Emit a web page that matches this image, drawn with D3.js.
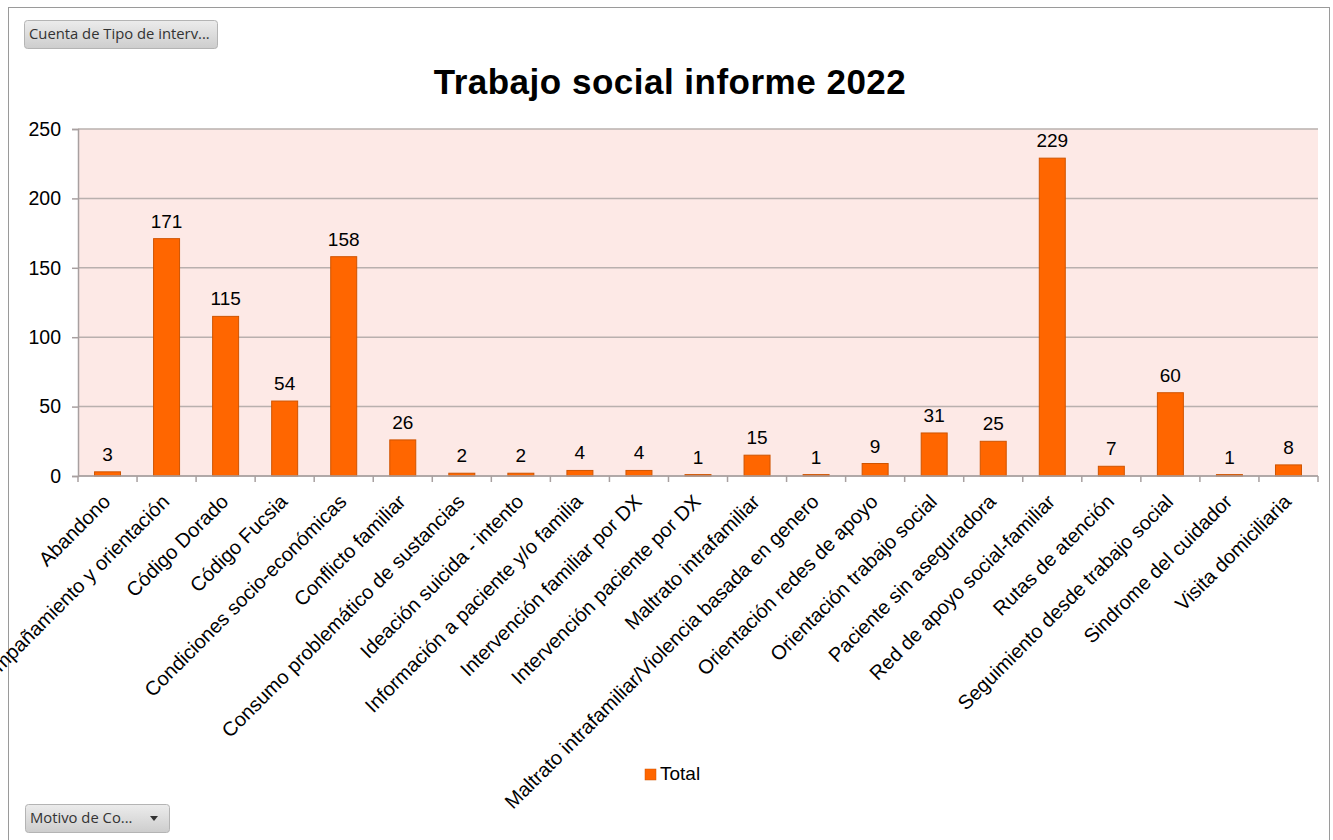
<!DOCTYPE html>
<html>
<head>
<meta charset="utf-8">
<script src="https://cdn.jsdelivr.net/npm/d3@7"></script>
<style>
  body { margin: 0; background: #fff; }
  text { font-family: "Liberation Sans", Arial, sans-serif; }
  .btn text { font-family: "Open Sans", "Noto Sans", sans-serif; }
</style>
</head>
<body>
<div id="graf"></div>
<script>
// datos
const categorias = [
  "Abandono",
  "Acompañamiento y orientación",
  "Código Dorado",
  "Código Fucsia",
  "Condiciones socio-económicas",
  "Conflicto familiar",
  "Consumo problemático de sustancias",
  "Ideación suicida - intento",
  "Información a paciente y/o familia",
  "Intervención familiar por DX",
  "Intervención paciente por DX",
  "Maltrato intrafamiliar",
  "Maltrato intrafamiliar/Violencia basada en genero",
  "Orientación redes de apoyo",
  "Orientación trabajo social",
  "Paciente sin aseguradora",
  "Red de apoyo social-familiar",
  "Rutas de atención",
  "Seguimiento desde trabajo social",
  "Sindrome del cuidador",
  "Visita domiciliaria",
]
const totales = [3, 171, 115, 54, 158, 26, 2, 2, 4, 4, 1, 15, 1, 9, 31, 25, 229, 7, 60, 1, 8]
const yTicks = [0, 50, 100, 150, 200, 250]
const titulo = "Trabajo social informe 2022"
const serie = "Total"

const anchoTotal = 1333
const altoTotal = 840
const margins = { top: 129, right: 15, bottom: 364, left: 78 }
const ancho = anchoTotal - margins.left - margins.right
const alto = altoTotal - margins.top - margins.bottom

const svg = d3.select("#graf")
  .append("svg")
  .attr("width", anchoTotal)
  .attr("height", altoTotal)

// marco exterior
svg.append("rect")
  .attr("x", 8.5).attr("y", 7.5)
  .attr("width", 1321).attr("height", 850)
  .attr("fill", "none")
  .attr("stroke", "#9a9a9a")

// degradado de los botones
const grad = svg.append("defs").append("linearGradient")
  .attr("id", "btnGrad").attr("x1", 0).attr("y1", 0).attr("x2", 0).attr("y2", 1)
grad.append("stop").attr("offset", "0%").attr("stop-color", "#ececec")
grad.append("stop").attr("offset", "100%").attr("stop-color", "#cdcdcd")

const boton = (x, y, w, h, label, flecha) => {
  const b = svg.append("g").classed("btn", true)
  b.append("rect")
    .attr("x", x + 0.5).attr("y", y + 0.5)
    .attr("width", w).attr("height", h)
    .attr("rx", 3)
    .attr("fill", "url(#btnGrad)")
    .attr("stroke", "#b4b4b4")
  b.append("text")
    .attr("x", x + 5).attr("y", y + h / 2 + 5)
    .attr("font-size", 14.8)
    .attr("fill", "#333")
    .text(label)
  if (flecha) {
    b.append("path")
      .attr("d", `M${x + w - 19},${y + h / 2 - 2} l8,0 l-4,5 z`)
      .attr("fill", "#333")
  }
}
boton(24, 20, 193, 28, "Cuenta de Tipo de interv...", false)
boton(25, 804, 144, 28, "Motivo de Co...", true)

// titulo
svg.append("text")
  .attr("x", 670).attr("y", 94)
  .attr("text-anchor", "middle")
  .attr("font-size", 35)
  .attr("font-weight", "bold")
  .attr("letter-spacing", 0.5)
  .attr("fill", "#000")
  .text(titulo)

const g = svg.append("g")
  .attr("transform", `translate(${margins.left}, ${margins.top})`)

// escaladores
const x = d3.scaleBand()
  .domain(categorias)
  .range([0, ancho])
const y = d3.scaleLinear()
  .domain([0, 250])
  .range([alto, 0])

// fondo del area de trazado
g.append("rect")
  .attr("width", ancho).attr("height", alto)
  .attr("fill", "#fde9e6")

// lineas de cuadricula
g.selectAll(".grid")
  .data(yTicks)
  .enter()
  .append("line")
  .attr("x1", 0).attr("x2", ancho)
  .attr("y1", (d) => y(d)).attr("y2", (d) => y(d))
  .attr("stroke", "#b9b0ae")
  .attr("stroke-width", 1.5)

// eje y
const yAxis = d3.axisLeft(y).tickValues(yTicks).tickSize(6).tickPadding(11)
const yAxisGroup = g.append("g").call(yAxis)
yAxisGroup.select(".domain").attr("stroke", "#a8a0a0").attr("stroke-width", 1.5)
yAxisGroup.selectAll(".tick line").attr("stroke", "#a8a0a0").attr("stroke-width", 1.5)
yAxisGroup.selectAll("text")
  .attr("font-size", 19.5)
  .attr("font-family", "Liberation Sans, Arial, sans-serif")
  .attr("fill", "#000")

// marcas del eje x entre categorias
const limites = categorias.map((d) => x(d)).concat([ancho])
g.selectAll(".xtick")
  .data(limites)
  .enter()
  .append("line")
  .attr("x1", (d) => d).attr("x2", (d) => d)
  .attr("y1", alto).attr("y2", alto + 6)
  .attr("stroke", "#a8a0a0")
  .attr("stroke-width", 1.5)

// barras
const barW = x.bandwidth() * 0.44
g.selectAll(".bar")
  .data(totales)
  .enter()
  .append("rect")
  .attr("x", (d, i) => x(categorias[i]) + (x.bandwidth() - barW) / 2)
  .attr("y", (d) => y(d))
  .attr("width", barW)
  .attr("height", (d) => alto - y(d))
  .attr("fill", "#ff6600")
  .attr("stroke", "#cf5400")
  .attr("stroke-width", 1)

// etiquetas de valor
g.selectAll(".val")
  .data(totales)
  .enter()
  .append("text")
  .attr("x", (d, i) => x(categorias[i]) + x.bandwidth() / 2)
  .attr("y", (d) => y(d) - 11)
  .attr("text-anchor", "middle")
  .attr("font-size", 19)
  .attr("fill", "#000")
  .text((d) => d)

// etiquetas de categoria
g.selectAll(".cat")
  .data(categorias)
  .enter()
  .append("text")
  .attr("transform", (d) => `translate(${x(d) + x.bandwidth() / 2 + 4}, ${alto + 27}) rotate(-45)`)
  .attr("text-anchor", "end")
  .attr("font-size", 20)
  .attr("fill", "#000")
  .text((d) => d)

// leyenda
const leyenda = svg.append("g").attr("transform", "translate(645, 769)")
leyenda.append("rect")
  .attr("width", 11).attr("height", 11)
  .attr("fill", "#ff6600")
  .attr("stroke", "#cf5400")
  .attr("stroke-width", 0.5)
leyenda.append("text")
  .attr("x", 15).attr("y", 11)
  .attr("font-size", 19)
  .attr("fill", "#000")
  .text(serie)

// linea del eje x encima de las barras
g.append("line")
  .attr("x1", 0).attr("x2", ancho)
  .attr("y1", alto).attr("y2", alto)
  .attr("stroke", "#a8a0a0")
  .attr("stroke-width", 1.5)
</script>
</body>
</html>
